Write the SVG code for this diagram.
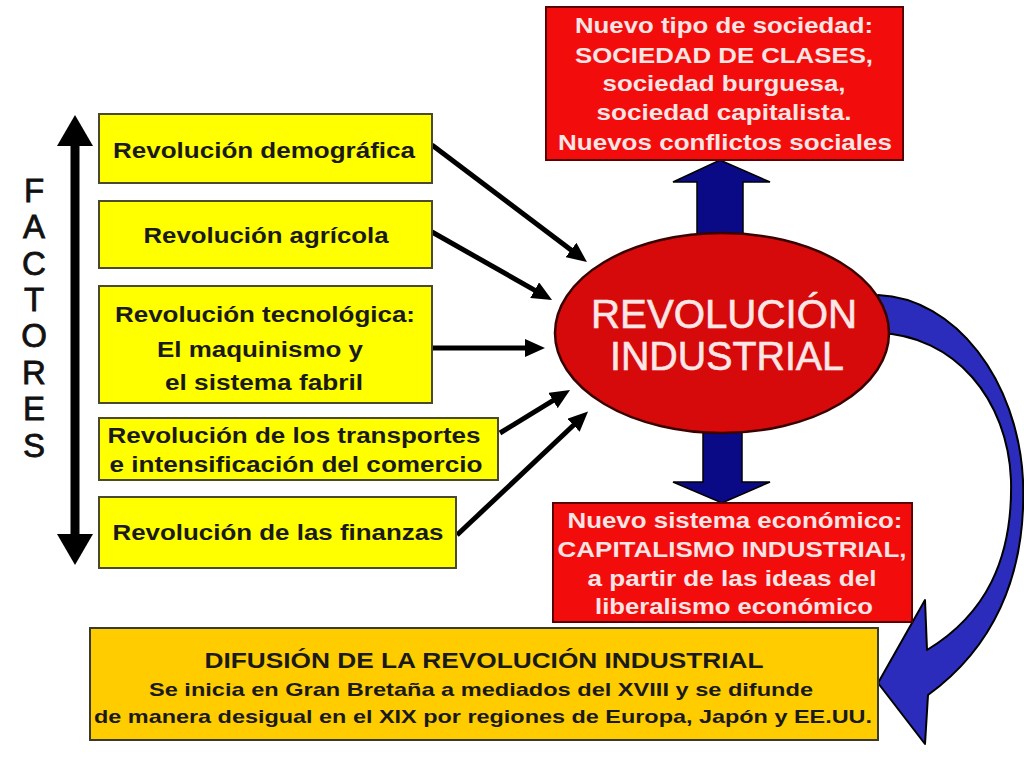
<svg xmlns="http://www.w3.org/2000/svg" width="1024" height="768" viewBox="0 0 1024 768">
<defs>
<style>
.yb{fill:#ffff00;stroke:#4a4a2a;stroke-width:2}
.rb{fill:#f20c0c;stroke:#5a0000;stroke-width:2}
.ob{fill:#ffcc00;stroke:#3a3a2a;stroke-width:2}
.yt{font-family:"Liberation Sans",Arial,sans-serif;font-weight:bold;font-size:22px;fill:#1a1a1a;text-anchor:middle}
.rt{font-family:"Liberation Sans",Arial,sans-serif;font-weight:bold;font-size:22px;fill:#fbe4e4;text-anchor:middle}
.ot{font-family:"Liberation Sans",Arial,sans-serif;font-weight:bold;fill:#1a1a1a;text-anchor:middle}
.ft{font-family:"Liberation Sans",Arial,sans-serif;font-size:33px;fill:#111;stroke:#111;stroke-width:0.8;text-anchor:middle}
.ct{font-family:"Liberation Sans",Arial,sans-serif;font-size:40px;fill:#fde6e6;stroke:#fde6e6;stroke-width:0.6;text-anchor:middle}
.blk{stroke:#000;stroke-width:5;fill:none;marker-end:url(#ah)}
.navy{fill:#0a0a86;stroke:#000;stroke-width:1.5}
.blue{fill:#2c2cbc;stroke:#000;stroke-width:2;stroke-linejoin:round}
</style>
<marker id="ah" viewBox="0 0 20 18" markerWidth="20" markerHeight="18" refX="8" refY="9" orient="auto" markerUnits="userSpaceOnUse">
<path d="M0,0 L20,9 L0,18 Z" fill="#000"/>
</marker>
</defs>
<rect width="1024" height="768" fill="#ffffff"/>

<g id="factores">
<line x1="75" y1="140" x2="75" y2="540" stroke="#000" stroke-width="9"/>
<polygon points="57,146 75,115 93,146" fill="#000"/>
<polygon points="57,534 75,565 93,534" fill="#000"/>
<text class="ft" x="34" y="202">F</text>
<text class="ft" x="34" y="238">A</text>
<text class="ft" x="34" y="275">C</text>
<text class="ft" x="34" y="311">T</text>
<text class="ft" x="34" y="347">O</text>
<text class="ft" x="34" y="384">R</text>
<text class="ft" x="34" y="420">E</text>
<text class="ft" x="34" y="457">S</text>
</g>

<g id="connectors">
<polygon class="navy" points="697,245 697,182 673,182 720,160 770,182 743,182 743,245"/>
<polygon class="navy" points="703,420 742,420 742,482 770,482 722,503 673,482 703,482"/>
<line class="blk" x1="432" y1="145" x2="577.4" y2="254.8"/>
<line class="blk" x1="432" y1="232" x2="541.6" y2="294.1"/>
<line class="blk" x1="432" y1="348" x2="533" y2="348"/>
<line class="blk" x1="500" y1="433" x2="559.8" y2="396.3"/>
<line class="blk" x1="457" y1="535" x2="579.3" y2="419.8"/>
<path class="blue" d="M 878 295 C 955 298, 1018 380, 1023 480 C 1027 580, 990 650, 928 695 L 925 744 L 878 683 L 925 600 L 927 650 C 985 615, 1013 560, 1011 480 C 1008 400, 955 335, 878 333 Z"/>
</g>

<g id="revolucion-industrial">
<ellipse cx="722" cy="333" rx="167" ry="100" fill="#d60a0a" stroke="#3a0000" stroke-width="2.5"/>
<text class="ct" x="724" y="328" textLength="266" lengthAdjust="spacingAndGlyphs">REVOLUCIÓN</text>
<text class="ct" x="727" y="370" textLength="234" lengthAdjust="spacingAndGlyphs">INDUSTRIAL</text>
</g>

<g id="demografica">
<rect class="yb" x="99" y="114" width="333" height="69"/>
<text class="yt" x="264" y="158" textLength="302" lengthAdjust="spacingAndGlyphs">Revolución demográfica</text>
</g>

<g id="agricola">
<rect class="yb" x="99" y="201" width="333" height="67"/>
<text class="yt" x="266" y="243" textLength="245" lengthAdjust="spacingAndGlyphs">Revolución agrícola</text>
</g>

<g id="tecnologica">
<rect class="yb" x="99" y="286" width="333" height="117"/>
<text class="yt" x="265" y="322" textLength="300" lengthAdjust="spacingAndGlyphs">Revolución tecnológica:</text>
<text class="yt" x="260" y="357" textLength="206" lengthAdjust="spacingAndGlyphs">El maquinismo y</text>
<text class="yt" x="264" y="390" textLength="198" lengthAdjust="spacingAndGlyphs">el sistema fabril</text>
</g>

<g id="transportes">
<rect class="yb" x="99" y="418" width="399" height="62"/>
<text class="yt" x="294" y="443" textLength="373" lengthAdjust="spacingAndGlyphs">Revolución de los transportes</text>
<text class="yt" x="296" y="472" textLength="373" lengthAdjust="spacingAndGlyphs">e intensificación del comercio</text>
</g>

<g id="finanzas">
<rect class="yb" x="99" y="497" width="357" height="71"/>
<text class="yt" x="278" y="540" textLength="331" lengthAdjust="spacingAndGlyphs">Revolución de las finanzas</text>
</g>

<g id="sociedad">
<rect class="rb" x="546" y="7" width="357" height="153"/>
<text class="rt" x="724" y="33" textLength="298" lengthAdjust="spacingAndGlyphs">Nuevo tipo de sociedad:</text>
<text class="rt" x="724" y="63" textLength="298" lengthAdjust="spacingAndGlyphs">SOCIEDAD DE CLASES,</text>
<text class="rt" x="724" y="91" textLength="243" lengthAdjust="spacingAndGlyphs">sociedad burguesa,</text>
<text class="rt" x="724" y="120" textLength="255" lengthAdjust="spacingAndGlyphs">sociedad capitalista.</text>
<text class="rt" x="725" y="150" textLength="334" lengthAdjust="spacingAndGlyphs">Nuevos conflictos sociales</text>
</g>

<g id="sistema-economico">
<rect class="rb" x="553" y="503" width="359" height="119"/>
<text class="rt" x="735" y="528" textLength="335" lengthAdjust="spacingAndGlyphs">Nuevo sistema económico:</text>
<text class="rt" x="732" y="557" textLength="349" lengthAdjust="spacingAndGlyphs">CAPITALISMO INDUSTRIAL,</text>
<text class="rt" x="732" y="586" textLength="289" lengthAdjust="spacingAndGlyphs">a partir de las ideas del</text>
<text class="rt" x="734" y="614" textLength="278" lengthAdjust="spacingAndGlyphs">liberalismo económico</text>
</g>

<g id="difusion">
<rect class="ob" x="90" y="628" width="788" height="112"/>
<text class="ot" x="484" y="668" font-size="22" textLength="559" lengthAdjust="spacingAndGlyphs">DIFUSIÓN DE LA REVOLUCIÓN INDUSTRIAL</text>
<text class="ot" x="481" y="696" font-size="19" textLength="664" lengthAdjust="spacingAndGlyphs">Se inicia en Gran Bretaña a mediados del XVIII y se difunde</text>
<text class="ot" x="483" y="723" font-size="19" textLength="778" lengthAdjust="spacingAndGlyphs">de manera desigual en el XIX por regiones de Europa, Japón y EE.UU.</text>
</g>
</svg>
